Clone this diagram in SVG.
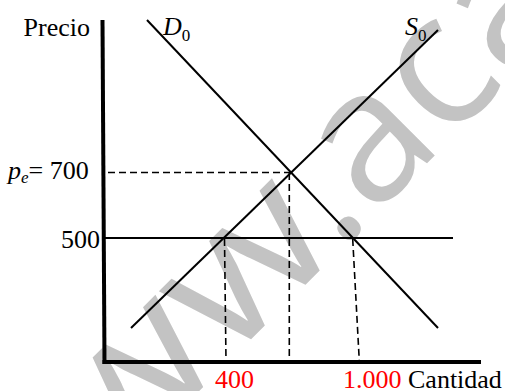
<svg xmlns="http://www.w3.org/2000/svg" width="505" height="391" viewBox="0 0 505 391">
<style>
.t{font-family:"Liberation Serif","Times New Roman",serif;font-size:26px;fill:#000}
.r{fill:#ff0000}
.i{font-style:italic}
.ax{stroke:#000;stroke-width:4;fill:none}
.ln{stroke:#000;stroke-width:2;fill:none}
.ds{stroke:#000;stroke-width:1.6;fill:none;stroke-dasharray:7 4}
.wm{font-family:"Open Sans","DejaVu Sans",sans-serif;font-size:185px;fill:#c3c3c3}
</style>
<rect width="505" height="391" fill="#fff"/>
<g id="watermark" transform="translate(359,230) rotate(-45)">
<text class="wm" transform="translate(-517,1) scale(1.15,1)" x="0" y="0">www</text>
<text class="wm" x="-30" y="1">.acad</text>
</g>
<g id="axes">
<line class="ax" x1="102.5" y1="20" x2="104.5" y2="364"/>
<line class="ax" x1="102.5" y1="362" x2="481" y2="362"/>
</g>
<g id="connectors">
<line id="demand" class="ln" x1="147" y1="20" x2="438" y2="328"/>
<line id="supply" class="ln" x1="438" y1="30" x2="131" y2="328"/>
<line id="price500" class="ln" x1="105" y1="238" x2="453" y2="238"/>
<line class="ds" x1="108" y1="172.5" x2="290" y2="172.5"/>
<line class="ds" x1="289.3" y1="173" x2="289.3" y2="361"/>
<line class="ds" x1="224.5" y1="239" x2="226" y2="361"/>
<line class="ds" x1="352.7" y1="239" x2="359.3" y2="361"/>
</g>
<g id="labels">
<text class="t" x="90" y="36" text-anchor="end">Precio</text>
<text class="t" x="163" y="35"><tspan class="i">D</tspan><tspan font-size="17" dy="6">0</tspan></text>
<text class="t" x="405" y="35"><tspan class="i">S</tspan><tspan font-size="17" dy="6">0</tspan></text>
<text class="t" x="8" y="179"><tspan class="i">p</tspan><tspan class="i" font-size="17" dy="4">e</tspan><tspan dy="-4">= 700</tspan></text>
<text class="t" x="100" y="248" text-anchor="end">500</text>
<text class="t r" x="215" y="388">400</text>
<text class="t" x="343" y="388"><tspan class="r">1.000</tspan> Cantidad</text>
</g>
</svg>
